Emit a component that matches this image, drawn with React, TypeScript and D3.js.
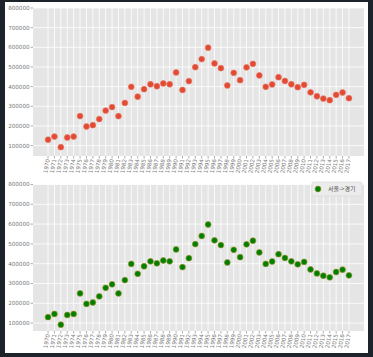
import React, { useEffect, useRef } from "react";
import * as d3 from "d3";

const years: string[] = [
  "1970","1971","1972","1973","1974","1975","1976","1977","1978","1979",
  "1980","1981","1982","1983","1984","1985","1986","1987","1988","1989",
  "1990","1991","1992","1993","1994","1995","1996","1997","1998","1999",
  "2000","2001","2002","2003","2004","2005","2006","2007","2008","2009",
  "2010","2011","2012","2013","2014","2015","2016","2017",
];

const seoulToGyeonggi: number[] = [
  130000, 146000, 92000, 141000, 146000, 250000, 197000, 204000, 235000, 278000,
  296000, 250000, 317000, 399000, 349000, 387000, 412000, 402000, 416000, 412000,
  472000, 383000, 428000, 499000, 540000, 598000, 518000, 494000, 406000, 470000,
  433000, 498000, 516000, 457000, 399000, 411000, 448000, 429000, 412000, 397000,
  409000, 371000, 351000, 339000, 331000, 358000, 370000, 341000,
];

const yTicks: number[] = [100000, 200000, 300000, 400000, 500000, 600000, 700000, 800000];
const legendLabel = "서울->경기";

export default function App() {
  const ref = useRef<SVGSVGElement>(null);

  useEffect(() => {
    document.body.style.margin = "0";
    const svg = d3.select(ref.current);
    svg.selectAll("*").remove();

    svg.append("rect").attr("width", 373).attr("height", 357).attr("fill", "#1c232b");
    svg.append("rect").attr("x", 5).attr("y", 2).attr("width", 363).attr("height", 351).attr("fill", "#ffffff");

    const panels = [
      { top: 8, bottom: 156, fill: "#E24A33", stroke: "#e8735f", legend: false, ymin: 47000 },
      { top: 184.5, bottom: 331, fill: "#008000", stroke: "#8f8f22", legend: true, ymin: 60000 },
    ];
    const left = 33, right = 364;
    const font = "DejaVu Sans, sans-serif";

    panels.forEach((p) => {
      const g = svg.append("g");
      const x = d3.scalePoint<string>().domain(years).range([left, right]).padding(2.35);
      const y = d3.scaleLinear().domain([p.ymin, 800000]).range([p.bottom, p.top]);

      g.append("rect").attr("x", left).attr("y", p.top).attr("width", right - left)
        .attr("height", p.bottom - p.top).attr("fill", "#E5E5E5");

      // grid
      g.selectAll(".vg").data(years).enter().append("line")
        .attr("x1", (d) => x(d)!).attr("x2", (d) => x(d)!)
        .attr("y1", p.top).attr("y2", p.bottom)
        .attr("stroke", "#ffffff").attr("stroke-width", 0.8);
      g.selectAll(".hg").data(yTicks).enter().append("line")
        .attr("x1", left).attr("x2", right)
        .attr("y1", (d) => y(d)).attr("y2", (d) => y(d))
        .attr("stroke", "#ffffff").attr("stroke-width", 0.8);

      // y ticks
      g.selectAll(".yt").data(yTicks).enter().append("line")
        .attr("x1", left - 2.5).attr("x2", left).attr("y1", (d) => y(d)).attr("y2", (d) => y(d))
        .attr("stroke", "#777").attr("stroke-width", 0.6);
      g.selectAll(".yl").data(yTicks).enter().append("text")
        .attr("x", left - 3.5).attr("y", (d) => y(d)).attr("dy", "0.35em")
        .attr("text-anchor", "end").attr("font-family", font).attr("font-size", 5.6)
        .attr("fill", "#777").text((d) => String(d));

      // x ticks
      g.selectAll(".xt").data(years).enter().append("line")
        .attr("x1", (d) => x(d)!).attr("x2", (d) => x(d)!)
        .attr("y1", p.bottom).attr("y2", p.bottom + 2.5)
        .attr("stroke", "#777").attr("stroke-width", 0.6);
      g.selectAll(".xl").data(years).enter().append("text")
        .attr("transform", (d) => `translate(${x(d)! + 1.8},${p.bottom + 3.5}) rotate(-80)`)
        .attr("text-anchor", "end").attr("font-family", font).attr("font-size", 5.6)
        .attr("fill", "#777").text((d) => d);

      // points
      g.selectAll(".pt").data(seoulToGyeonggi).enter().append("circle")
        .attr("cx", (_, i) => x(years[i])!).attr("cy", (d) => y(d))
        .attr("r", 2.9).attr("fill", p.fill).attr("stroke", p.stroke).attr("stroke-width", 0.7);

      if (p.legend) {
        const lx = 312, ly = p.top - 2.5 + 0;
        g.append("rect").attr("x", lx).attr("y", ly).attr("width", 50).attr("height", 14)
          .attr("rx", 1.5).attr("fill", "#ececec").attr("stroke", "#d6d6d6").attr("stroke-width", 0.6);
        g.append("circle").attr("cx", lx + 6).attr("cy", ly + 7).attr("r", 2.9)
          .attr("fill", p.fill).attr("stroke", p.stroke).attr("stroke-width", 0.7);
        g.append("text").attr("x", lx + 16).attr("y", ly + 7).attr("dy", "0.35em")
          .attr("font-family", "Noto Sans CJK KR, sans-serif").attr("font-size", 6)
          .attr("fill", "#555").text(legendLabel);
      }
    });
  }, []);

  return <svg ref={ref} width={373} height={357} style={{ display: "block" }} />;
}
